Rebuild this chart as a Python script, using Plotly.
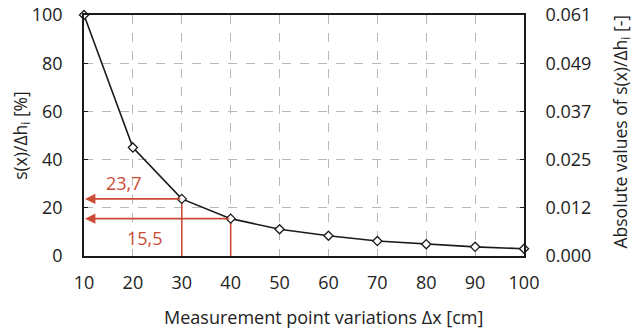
import plotly.graph_objects as go

x_vals = [10, 20, 30, 40, 50, 60, 70, 80, 90, 100]
y_vals = [100, 45, 23.7, 15.5, 11.1, 8.4, 6.2, 4.9, 3.8, 3.0]
left_ticks = [0, 20, 40, 60, 80, 100]
right_tick_labels = ["0.000", "0.012", "0.025", "0.037", "0.049", "0.061"]
marked_x = [30, 40]
marked_y = [23.7, 15.5]
marked_labels = ["23,7", "15,5"]
label_pos_x = [18.2, 22.5]
label_pos_y = [30.5, 7.5]

RED = "#cc4b35"
FONT = "Open Sans"

fig = go.Figure()
fig.add_trace(go.Scatter(
    x=x_vals, y=y_vals, mode="lines+markers",
    line=dict(color="#1a1a1a", width=1.6),
    marker=dict(symbol="diamond", size=7, color="white",
                line=dict(color="#1a1a1a", width=1.3)),
    showlegend=False, cliponaxis=False))
fig.add_trace(go.Scatter(x=[x_vals[0]], y=[0], yaxis="y2", mode="markers",
                         marker=dict(opacity=0), showlegend=False, hoverinfo="skip"))

for mx, my in zip(marked_x, marked_y):
    fig.add_shape(type="line", x0=mx, x1=mx, y0=0, y1=my, xref="x", yref="y",
                  line=dict(color=RED, width=1.6), layer="between")
    fig.add_annotation(x=x_vals[0], y=my, ax=mx, ay=my, xref="x", yref="y",
                       axref="x", ayref="y", showarrow=True, arrowhead=2,
                       arrowsize=1.3, arrowwidth=1.6, arrowcolor=RED, text="",
                       standoff=1)
for lx, ly, lt in zip(label_pos_x, label_pos_y, marked_labels):
    fig.add_annotation(x=lx, y=ly, xref="x", yref="y", text=lt, showarrow=False,
                       font=dict(color=RED, size=18, family=FONT))

fig.add_annotation(x=0.545, y=0, xref="paper", yref="paper", yanchor="middle",
                   yshift=-61, showarrow=False,
                   text="Measurement point variations Δx [cm]",
                   font=dict(size=18, family=FONT, color="#222"))
fig.add_annotation(x=1, y=0.5, xref="paper", yref="paper", xanchor="center",
                   yanchor="middle", xshift=97, yshift=4, textangle=-90,
                   showarrow=False,
                   text="Absolute values of s(x)/Δh<sub>i</sub> [-]",
                   font=dict(size=17.5, family=FONT, color="#222"))

grid = dict(showgrid=True, gridcolor="#b8b8b8", griddash="dash", gridwidth=1)
fig.update_layout(
    width=634, height=330,
    margin=dict(l=84, r=110, t=15, b=74, autoexpand=False),
    paper_bgcolor="white", plot_bgcolor="white",
    font=dict(family=FONT, size=18, color="#222"),
    xaxis=dict(range=[10, 100], tickvals=x_vals, showline=True, linecolor="#1a1a1a",
               linewidth=1.6, mirror=True, zeroline=False,
               ticks="", tickfont=dict(size=18), ticklabelstandoff=10,
               **grid),
    yaxis=dict(range=[0, 100], tickvals=left_ticks, showline=True, linecolor="#1a1a1a",
               linewidth=1.6, zeroline=False, ticks="inside", ticklen=4, tickcolor="#1a1a1a",
               tickfont=dict(size=18), ticklabelstandoff=16,
               title=dict(text="s(x)/Δh<sub>i</sub> [%]", font=dict(size=17.5), standoff=0),
               **grid),
    yaxis2=dict(range=[0, 100], overlaying="y", side="right", tickvals=left_ticks,
                ticktext=right_tick_labels, showline=True, linecolor="#1a1a1a",
                linewidth=1.6, showgrid=False, zeroline=False, ticks="inside",
                ticklen=4, tickcolor="#1a1a1a", tickfont=dict(size=18),
                ticklabelstandoff=16),
)

fig.write_html("out.html")
